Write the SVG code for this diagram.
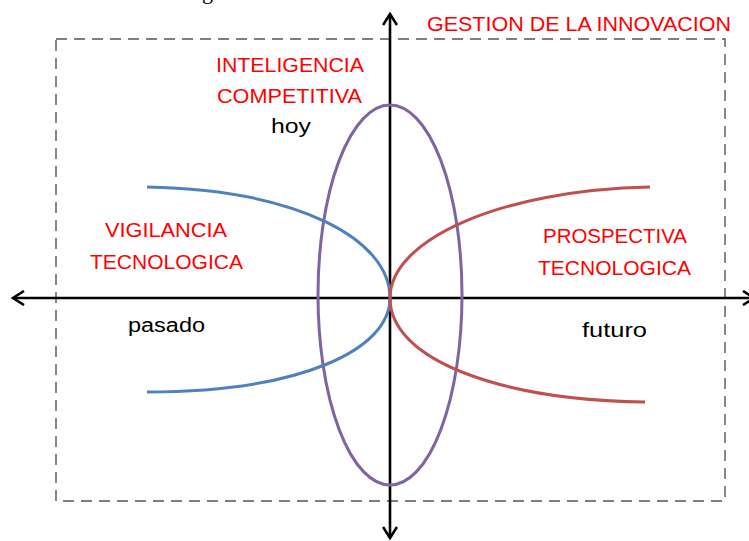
<svg xmlns="http://www.w3.org/2000/svg" width="749" height="541" viewBox="0 0 749 541">
<style>
.lbl{font-family:"Liberation Sans",Arial,sans-serif;font-size:20px;fill:#ff0000}
.blk{font-family:"Liberation Sans",Arial,sans-serif;font-size:20px;fill:#000}
.axis{stroke:#000;stroke-width:2.6;fill:none}
</style>
<defs>
<marker id="arr" viewBox="0 0 14 16" refX="12" refY="8" markerWidth="14" markerHeight="16" markerUnits="userSpaceOnUse" orient="auto-start-reverse">
<path d="M1,1 L12,8 L1,15" fill="none" stroke="#000" stroke-width="2.6" stroke-linejoin="miter"/>
</marker>
</defs>
<rect width="749" height="541" fill="#fff"/>
<text x="202" y="-1" font-family="Liberation Serif,serif" font-size="22" fill="#000">g</text>
<g id="frame">
<rect x="56" y="39" width="669" height="462" fill="none" stroke="#555" stroke-width="1.4" stroke-dasharray="11 7"/>
</g>
<g id="title"><text class="lbl" x="427" y="31" textLength="304" lengthAdjust="spacingAndGlyphs">GESTION DE LA INNOVACION</text></g>
<g id="connectors">
<line class="axis" x1="754" y1="298" x2="13" y2="298" marker-start="url(#arr)" marker-end="url(#arr)"/>
<line class="axis" x1="390" y1="14" x2="390" y2="538" marker-start="url(#arr)" marker-end="url(#arr)"/>
</g>
<g id="inteligencia">
<ellipse cx="390" cy="295" rx="72" ry="190" fill="none" stroke="#8064a2" stroke-width="3"/>
<text class="lbl" x="216" y="72" textLength="148" lengthAdjust="spacingAndGlyphs">INTELIGENCIA</text>
<text class="lbl" x="217" y="103" textLength="145" lengthAdjust="spacingAndGlyphs">COMPETITIVA</text>
<text class="blk" x="271" y="133" textLength="40" lengthAdjust="spacingAndGlyphs">hoy</text>
</g>
<g id="vigilancia">
<path d="M147,187 C300,190 390,240 390,298 C390,350 300,392 147,392" fill="none" stroke="#4f81bd" stroke-width="3"/>
<text class="lbl" x="105" y="237" textLength="122" lengthAdjust="spacingAndGlyphs">VIGILANCIA</text>
<text class="lbl" x="90" y="269" textLength="153" lengthAdjust="spacingAndGlyphs">TECNOLOGICA</text>
<text class="blk" x="128" y="332" textLength="77" lengthAdjust="spacingAndGlyphs">pasado</text>
</g>
<g id="prospectiva">
<path d="M650,187 C500,190 390,240 390,298 C390,360 500,400 645,402" fill="none" stroke="#c0504d" stroke-width="3"/>
<text class="lbl" x="543" y="243" textLength="144" lengthAdjust="spacingAndGlyphs">PROSPECTIVA</text>
<text class="lbl" x="538" y="275" textLength="153" lengthAdjust="spacingAndGlyphs">TECNOLOGICA</text>
<text class="blk" x="582" y="337" textLength="65" lengthAdjust="spacingAndGlyphs">futuro</text>
</g>
</svg>
